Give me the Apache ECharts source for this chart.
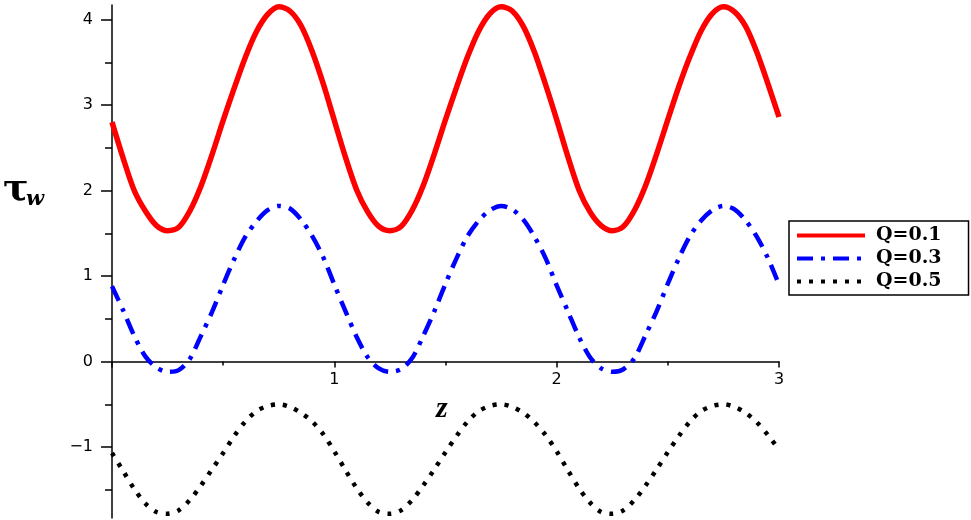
<!DOCTYPE html>
<html>
<head>
<meta charset="utf-8">
<script src="https://cdn.jsdelivr.net/npm/echarts@6/dist/echarts.min.js"></script>
<style>
  html, body { margin: 0; padding: 0; background: #fff; }
  #main { width: 971px; height: 520px; }
</style>
</head>
<body>
<div id="main"></div>
<script>
// z positions (step 0.05)
var zs = [0,0.05,0.1,0.15,0.2,0.25,0.3,0.35,0.4,0.45,0.5,0.55,0.6,0.65,0.7,0.75,0.8,0.85,0.9,0.95,
  1,1.05,1.1,1.15,1.2,1.25,1.3,1.35,1.4,1.45,1.5,1.55,1.6,1.65,1.7,1.75,1.8,1.85,1.9,1.95,
  2,2.05,2.1,2.15,2.2,2.25,2.3,2.35,2.4,2.45,2.5,2.55,2.6,2.65,2.7,2.75,2.8,2.85,2.9,2.95,3];

// Q=0.1
var q1 = [2.80,2.38,2.00,1.76,1.59,1.53,1.57,1.76,2.05,2.42,2.82,3.20,3.56,3.86,4.06,4.15,4.10,3.93,3.63,3.25,
  2.82,2.39,2.01,1.75,1.58,1.53,1.58,1.77,2.06,2.43,2.83,3.21,3.57,3.87,4.07,4.15,4.10,3.92,3.62,3.24,
  2.83,2.40,2.01,1.75,1.59,1.53,1.58,1.77,2.06,2.43,2.83,3.22,3.57,3.87,4.07,4.15,4.09,3.92,3.62,3.25,2.86];

// Q=0.3
var q3 = [0.88,0.60,0.30,0.06,-0.07,-0.12,-0.10,0.03,0.30,0.58,0.90,1.20,1.46,1.64,1.77,1.82,1.79,1.66,1.47,1.22,
  0.90,0.59,0.29,0.05,-0.08,-0.12,-0.09,0.04,0.30,0.59,0.91,1.21,1.47,1.65,1.77,1.82,1.78,1.66,1.46,1.21,
  0.89,0.59,0.29,0.05,-0.08,-0.12,-0.09,0.04,0.31,0.59,0.91,1.21,1.47,1.65,1.77,1.82,1.78,1.65,1.46,1.21,0.90];

// Q=0.5
var q5 = [-1.07,-1.28,-1.49,-1.66,-1.76,-1.78,-1.74,-1.62,-1.45,-1.26,-1.07,-0.87,-0.70,-0.58,-0.52,-0.50,-0.53,-0.60,-0.70,-0.85,
  -1.05,-1.27,-1.48,-1.65,-1.76,-1.78,-1.74,-1.62,-1.45,-1.26,-1.06,-0.87,-0.70,-0.58,-0.52,-0.50,-0.53,-0.60,-0.71,-0.86,
  -1.05,-1.27,-1.48,-1.65,-1.76,-1.78,-1.74,-1.62,-1.45,-1.26,-1.06,-0.87,-0.70,-0.58,-0.52,-0.50,-0.53,-0.60,-0.71,-0.86,-1.03];

var seriesNames = ['Q=0.1', 'Q=0.3', 'Q=0.5'];
var xLabels = [1, 2, 3];
var yMajor = [-1, 0, 1, 2, 3, 4];
var yMinor = [-1.5, -0.5, 0.5, 1.5, 2.5, 3.5];
var yMin = -1.83, yMax = 4.17;

function pairs(ys) {
  return zs.map(function (z, i) { return [z, ys[i]]; });
}

var gridTop = 5, gridBottom = 2, chartH = 520;
var plotH = chartH - gridTop - gridBottom;
// lift the bottom x axis up to where y = 0 sits
var xAxisOffset = -plotH * (0 - yMin) / (yMax - yMin);

var chart = echarts.init(document.getElementById('main'));

var option = {
  backgroundColor: '#ffffff',
  animation: false,
  grid: { left: 112, right: 192, top: gridTop, bottom: gridBottom, outerBoundsMode: 'none' },
  legend: {
    orient: 'vertical',
    left: 789,
    top: 221,
    padding: [5, 27, 4, 6],
    itemGap: 4,
    itemWidth: 68,
    itemHeight: 18,
    borderColor: '#000',
    borderWidth: 1.5,
    itemStyle: { opacity: 0 },
    lineStyle: { width: 4 },
    textStyle: { fontFamily: 'DejaVu Serif', fontWeight: 'bold', fontSize: 19, color: '#000', padding: [0, 0, 0, 6] },
    data: seriesNames
  },
  xAxis: {
    type: 'value',
    position: 'bottom',
    offset: xAxisOffset,
    min: 0, max: 3, interval: 1,
    axisLine: { onZero: false, lineStyle: { color: '#000', width: 1.5 } },
    axisTick: { length: 6, lineStyle: { color: '#000', width: 1.5 } },
    minorTick: { show: true, splitNumber: 2, length: 4, lineStyle: { color: '#000', width: 1.5 } },
    axisLabel: {
      customValues: xLabels,
      margin: 10,
      fontFamily: 'DejaVu Sans', fontSize: 16, color: '#000'
    },
    splitLine: { show: false }
  },
  yAxis: [{
    type: 'value',
    min: yMin, max: yMax,
    axisLine: { show: true, onZero: false, lineStyle: { color: '#000', width: 1.5 } },
    axisTick: { customValues: yMajor, length: 11, lineStyle: { color: '#000', width: 1.5 } },
    axisLabel: {
      customValues: yMajor,
      margin: 19,
      fontFamily: 'DejaVu Sans', fontSize: 16, color: '#000',
      formatter: function (v) { return v < 0 ? '\u2212' + Math.abs(v) : String(v); }
    },
    splitLine: { show: false }
  }, {
    type: 'value',
    position: 'left',
    min: yMin, max: yMax,
    axisLine: { show: false, onZero: false },
    axisTick: { show: true, customValues: yMinor, length: 7, lineStyle: { color: '#000', width: 1.5 } },
    axisLabel: { show: false },
    splitLine: { show: false }
  }],
  graphic: [
    { type: 'text', left: 3, top: 171,
      style: { text: '\u03c4', font: 'bold 38px "DejaVu Serif"', fill: '#000' } },
    { type: 'text', left: 26, top: 189,
      style: { text: 'w', font: 'bold italic 21px "DejaVu Serif"', fill: '#000' } },
    { type: 'text', left: 436, top: 394,
      style: { text: 'z', font: 'bold italic 30px "Liberation Serif"', fill: '#000' } }
  ],
  series: [{
    name: seriesNames[0], type: 'line', smooth: 0.3, symbol: 'none',
    lineStyle: { color: '#ff0000', width: 5.5 },
    itemStyle: { color: '#ff0000' },
    data: pairs(q1)
  }, {
    name: seriesNames[1], type: 'line', smooth: 0.3, symbol: 'none',
    lineStyle: { color: '#0000ff', width: 4.5, type: [16, 8, 4, 8] },
    itemStyle: { color: '#0000ff' },
    data: pairs(q3)
  }, {
    name: seriesNames[2], type: 'line', smooth: 0.3, symbol: 'none',
    lineStyle: { color: '#000000', width: 4.5, type: [4, 8] },
    itemStyle: { color: '#000000' },
    data: pairs(q5)
  }]
};

chart.setOption(option);
</script>
</body>
</html>
